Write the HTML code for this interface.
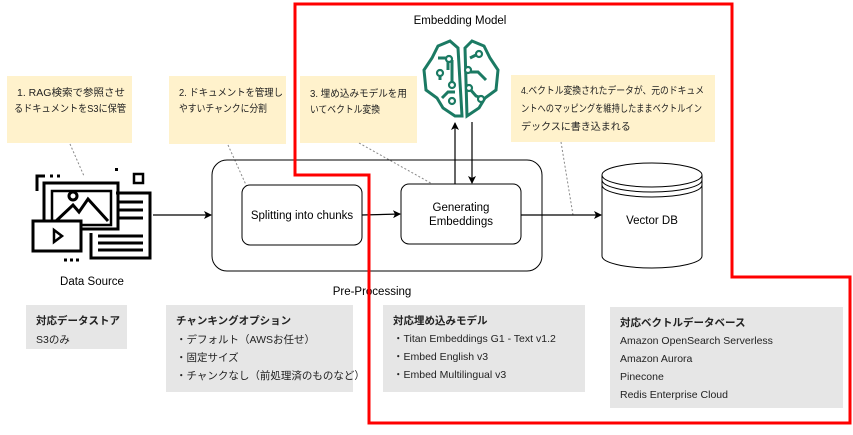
<!DOCTYPE html>
<html><head><meta charset="utf-8"><style>
html,body{margin:0;padding:0;background:#fff;}
svg text{font-family:"Liberation Sans","Noto Sans CJK JP",sans-serif;}
</style></head><body>
<svg width="853" height="430" viewBox="0 0 853 430" xmlns="http://www.w3.org/2000/svg">
<defs><marker id="ar" markerWidth="8" markerHeight="8" refX="7" refY="4" orient="auto" markerUnits="userSpaceOnUse"><path d="M0,0 L8,4 L0,8 L2,4 Z" fill="#000"/></marker></defs>
<rect x="7" y="76" width="125" height="67" fill="#fff2cc"/>
<rect x="169" y="76" width="117" height="68" fill="#fff2cc"/>
<rect x="300" y="76" width="117" height="67" fill="#fff2cc"/>
<rect x="511" y="75" width="204" height="67" fill="#fff2cc"/>
<g font-size="10" fill="#222">
<text x="17" y="96" textLength="108" lengthAdjust="spacingAndGlyphs">1. RAG検索で参照させ</text>
<text x="14" y="112" textLength="112" lengthAdjust="spacingAndGlyphs">るドキュメントをS3に保管</text>
<text x="179" y="96" textLength="104" lengthAdjust="spacingAndGlyphs">2. ドキュメントを管理し</text>
<text x="179" y="112" textLength="88" lengthAdjust="spacingAndGlyphs">やすいチャンクに分割</text>
<text x="310" y="97" textLength="97" lengthAdjust="spacingAndGlyphs">3. 埋め込みモデルを用</text>
<text x="310" y="113" textLength="70" lengthAdjust="spacingAndGlyphs">いてベクトル変換</text>
<text x="521" y="94" textLength="183" lengthAdjust="spacingAndGlyphs">4.ベクトル変換されたデータが、元のドキュメ</text>
<text x="521" y="112" textLength="181" lengthAdjust="spacingAndGlyphs">ントへのマッピングを維持したままベクトルイン</text>
<text x="521" y="130">デックスに書き込まれる</text>
</g>
<g stroke="#888" stroke-dasharray="2,2" fill="none" stroke-width="1">
<line x1="70" y1="144" x2="84" y2="176"/>
<line x1="228" y1="145" x2="256" y2="207"/>
<line x1="359" y1="143" x2="436" y2="186"/>
<line x1="561" y1="142" x2="573" y2="215"/>
</g>
<rect x="212" y="160" width="330" height="111" rx="15" fill="none" stroke="#000"/>
<rect x="242" y="185" width="120" height="60" rx="8" fill="#fff" stroke="#000"/>
<rect x="401" y="184" width="120" height="60" rx="8" fill="#fff" stroke="#000"/>
<text x="302" y="219" font-size="11.5" text-anchor="middle">Splitting into chunks</text>
<text x="461" y="211" font-size="11.5" text-anchor="middle">Generating</text>
<text x="461" y="225" font-size="11.5" text-anchor="middle">Embeddings</text>
<text x="372" y="295" font-size="11.5" text-anchor="middle">Pre-Processing</text>
<g stroke="#000" fill="none" stroke-width="1.2">
<line x1="153" y1="215" x2="211" y2="215" marker-end="url(#ar)"/>
<line x1="362" y1="215" x2="400" y2="214" marker-end="url(#ar)"/>
<line x1="521" y1="215" x2="601" y2="215" marker-end="url(#ar)"/>
<line x1="455" y1="184" x2="455" y2="123" marker-end="url(#ar)"/>
<line x1="472" y1="122" x2="472" y2="183" marker-end="url(#ar)"/>
</g>
<g stroke="#000" fill="#fff" stroke-width="1">
<path d="M602,175 L602,256 A50,12 0 0 0 702,256 L702,175"/>
<ellipse cx="652" cy="175" rx="50" ry="12"/>
<path d="M602,180 A50,12 0 0 0 702,180" fill="none"/>
<path d="M602,185 A50,12 0 0 0 702,185" fill="none"/>
</g>
<text x="652" y="224" font-size="11.5" text-anchor="middle">Vector DB</text>
<g stroke="#1b7a63" stroke-width="3" fill="none">
<path d="M455,116 L443,108 L437,98 L426,90 L424,70 L432,58 L438,46 L450,41 L458,48 L462,116 Z"/>
<path d="M465,48 L472,41 L484,46 L490,58 L498,70 L496,90 L485,98 L479,108 L467,116 Z"/>
<path d="M438,58 L448,58 L448,70 M440,72 L440,80 M452,60 L452,86 M442,98 L448,92 L455,92 M470,58 L478,54 M469,72 L478,72 L486,80 M469,88 L476,96 L482,98"/>
</g>
<g fill="#fff" stroke="#1b7a63" stroke-width="2.2">
<circle cx="449" cy="59" r="3"/><circle cx="440" cy="73" r="3"/><circle cx="452" cy="85" r="3"/><circle cx="452" cy="101" r="3"/><circle cx="479" cy="54" r="3"/><circle cx="468" cy="70" r="3"/><circle cx="469" cy="88" r="3"/><circle cx="481" cy="99" r="3"/>
</g>
<text x="460" y="24" font-size="11.5" text-anchor="middle">Embedding Model</text>
<g stroke="#000" stroke-width="3" fill="none">
<path d="M37,191 L37,176 L45,176 M50,176 L53,176 M57,176 L60,176"/>
<rect x="44" y="183" width="74" height="46"/>
<rect x="52" y="191" width="59" height="34" stroke-width="2.5"/>
<circle cx="73" cy="196" r="4"/>
<path d="M55,222 L73,205 L79,212 L88,199 L108,221"/>
<rect x="134" y="174" width="9" height="9" stroke-width="2.5"/>
<path d="M116,193 L150,193 L150,258 L91,258 L91,233"/>
<path d="M118,202 L143,202 M118,210 L143,210 M118,218 L143,218 M98,236 L143,236 M98,243 L143,243 M98,250 L143,250"/>
<rect x="33" y="221" width="48" height="30" fill="#fff"/>
<path d="M54,230 L62,236 L54,242 Z" stroke-width="2.5"/>
<path d="M64,260 L67,260 M70,260 L73,260 M76,260 L79,260"/>
</g>
<rect x="115" y="168" width="3" height="3" fill="#000"/>
<text x="92" y="285" font-size="11.5" text-anchor="middle">Data Source</text>
<rect x="26" y="305" width="101" height="44" fill="#e6e6e6"/>
<rect x="166" y="305" width="187" height="87" fill="#e6e6e6"/>
<rect x="383" y="305" width="202" height="87" fill="#e6e6e6"/>
<rect x="610" y="307" width="233" height="101" fill="#e6e6e6"/>
<g font-size="10.5" fill="#222">
<text x="36" y="324" font-weight="bold">対応データストア</text>
<text x="36" y="343">S3のみ</text>
<text x="176" y="324" font-weight="bold">チャンキングオプション</text>
<text x="176" y="343">・デフォルト（AWSお任せ）</text>
<text x="176" y="361">・固定サイズ</text>
<text x="176" y="379">・チャンクなし（前処理済のものなど）</text>
<text x="393" y="324" font-weight="bold">対応埋め込みモデル</text>
<text x="393" y="342">・Titan Embeddings G1 - Text v1.2</text>
<text x="393" y="360">・Embed English v3</text>
<text x="393" y="378">・Embed Multilingual v3</text>
<text x="620" y="326" font-weight="bold">対応ベクトルデータベース</text>
<text x="620" y="344">Amazon OpenSearch Serverless</text>
<text x="620" y="362">Amazon Aurora</text>
<text x="620" y="380">Pinecone</text>
<text x="620" y="398">Redis Enterprise Cloud</text>
</g>
<path d="M295,4 L732,4 L732,277 L850,277 L850,423 L369,423 L369,175 L295,175 Z" fill="none" stroke="#f00" stroke-width="3"/>
</svg>
</body></html>
